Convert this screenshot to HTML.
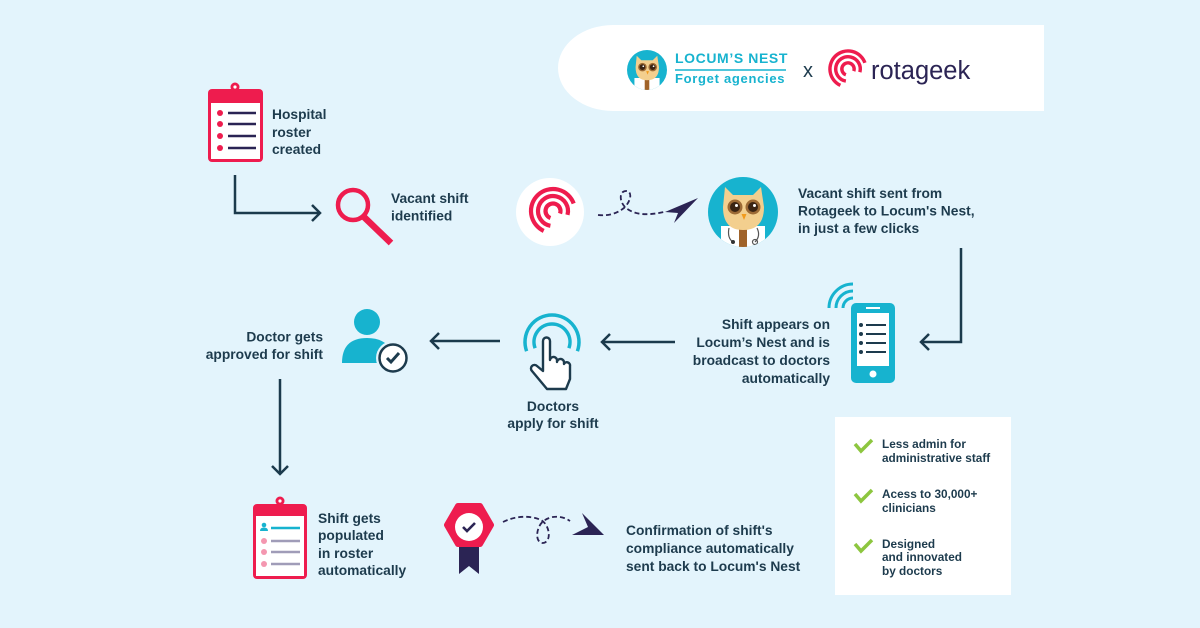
<!DOCTYPE html>
<html><head><meta charset="utf-8">
<style>
html,body{margin:0;padding:0;}
body{width:1200px;height:628px;background:#e3f4fc;overflow:hidden;}
svg{display:block}
.t{font-family:"Liberation Sans",Arial,sans-serif;font-weight:bold;font-size:13.8px;fill:#1d3b4d;}
.s{font-family:"Liberation Sans",Arial,sans-serif;font-weight:bold;font-size:11.8px;fill:#1d3b4d;}
</style></head><body>
<svg width="1200" height="628" viewBox="0 0 1200 628" xmlns="http://www.w3.org/2000/svg">
<defs>
<clipPath id="cbig"><circle cx="0" cy="0" r="35"/></clipPath>
</defs>
<rect width="1200" height="628" fill="#e3f4fc"/>

<!-- header box -->
<path d="M613,25 H1044 V111 H613 A55,43 0 0 1 613,25 Z" fill="#fff"/>
<!-- small owl logo -->
<g transform="translate(647,70) scale(0.571)">
  <circle r="35" fill="#17b3cf"/>
  <g clip-path="url(#cbig)">
    <rect x="-22" y="14" width="44" height="30" fill="#fff"/>
    <rect x="-4" y="16" width="8" height="28" fill="#a0632a"/>
    <path d="M-20,-5 L-18,-25 L-10,-17 H10 L18,-25 L21,-5 Q21,18 0,18 Q-20,18 -20,-5 Z" fill="#f3cf8e"/>
    <circle cx="-8" cy="-5" r="7.5" fill="#9c6a35"/><circle cx="-8" cy="-5" r="5" fill="#3a2413"/><circle cx="-6.5" cy="-6.5" r="1.5" fill="#fff"/>
    <circle cx="10" cy="-5" r="7.5" fill="#9c6a35"/><circle cx="10" cy="-5" r="5" fill="#3a2413"/><circle cx="11.5" cy="-6.5" r="1.5" fill="#fff"/>
    <polygon points="-1.5,2 3.5,2 1,8" fill="#f29b1d"/>
  </g>
</g>
<text x="675" y="63" font-family="Liberation Sans, Arial, sans-serif" font-weight="bold" font-size="14" letter-spacing="0.6" fill="#17b3cf">LOCUM’S NEST</text>
<line x1="675" y1="70" x2="786" y2="70" stroke="#17b3cf" stroke-width="1.6"/>
<text x="675" y="83" font-family="Liberation Sans, Arial, sans-serif" font-weight="bold" font-size="13" letter-spacing="0.7" fill="#17b3cf">Forget agencies</text>
<text x="803" y="77" font-family="Liberation Sans, Arial, sans-serif" font-size="20" fill="#1d3b4d">x</text>
<g transform="translate(848,69) scale(0.82)" fill="none" stroke="#ee1c4e" stroke-width="4.2">
  <path d="M20.67,-7.52 A22,22 0 1 0 -9.30,19.94"/>
  <path d="M14.49,3.88 A15,15 0 1 0 -2.60,14.77"/>
  <path d="M7.05,2.57 A7.5,7.5 0 1 0 -2.57,7.05"/>
</g>
<text x="871" y="79" font-family="Liberation Sans, Arial, sans-serif" font-size="25.5" fill="#2b2454">rotageek</text>

<!-- clipboard 1 -->
<circle cx="235" cy="87" r="4.5" fill="#ee1c4e"/><circle cx="235" cy="87" r="1.6" fill="#fff"/>
<rect x="208" y="89" width="55" height="73" rx="4" fill="#ee1c4e"/>
<rect x="211" y="103" width="49" height="56" fill="#fff"/>
<g fill="#ee1c4e"><circle cx="220" cy="113" r="3"/><circle cx="220" cy="124" r="3"/><circle cx="220" cy="136" r="3"/><circle cx="220" cy="148" r="3"/></g>
<g stroke="#2a2454" stroke-width="2.6"><line x1="228" y1="113" x2="256" y2="113"/><line x1="228" y1="124" x2="256" y2="124"/><line x1="228" y1="136" x2="256" y2="136"/><line x1="228" y1="148" x2="256" y2="148"/></g>
<text class="t" x="272" y="119">Hospital</text>
<text class="t" x="272" y="137">roster</text>
<text class="t" x="272" y="154">created</text>

<!-- connectors -->
<g fill="none" stroke="#1b3a4c" stroke-width="2.5">
  <polyline points="235,175 235,213 320,213"/>
  <polyline points="312,205 320,213 312,221"/>
  <polyline points="961,248 961,342 921,342"/>
  <polyline points="929,334 921,342 929,350"/>
  <line x1="675" y1="342" x2="602" y2="342"/>
  <polyline points="610,334 602,342 610,350"/>
  <line x1="500" y1="341" x2="431" y2="341"/>
  <polyline points="439,333 431,341 439,349"/>
  <line x1="280" y1="379" x2="280" y2="474"/>
  <polyline points="272,466 280,474 288,466"/>
</g>

<!-- magnifier -->
<circle cx="353" cy="205" r="15" fill="none" stroke="#ee1c4e" stroke-width="4.5"/>
<line x1="364" y1="217" x2="391" y2="243" stroke="#ee1c4e" stroke-width="6.5"/>
<path d="M355,219 A9.5,9.5 0 0 0 367,208" fill="none" stroke="#ee1c4e" stroke-width="2"/>
<text class="t" x="391" y="203">Vacant shift</text>
<text class="t" x="391" y="220.5">identified</text>

<!-- rotageek circle -->
<circle cx="550" cy="212" r="34" fill="#fff"/>
<g transform="translate(553,211)" fill="none" stroke="#ee1c4e" stroke-width="4.2">
  <path d="M20.67,-7.52 A22,22 0 1 0 -9.30,19.94"/>
  <path d="M14.49,3.88 A15,15 0 1 0 -2.60,14.77"/>
  <path d="M7.05,2.57 A7.5,7.5 0 1 0 -2.57,7.05"/>
</g>

<!-- dashed path top -->
<path d="M598,215 C608,216 616,214 624,208 C632,200 632,191 626,191 C619,191 619,202 626,208 C636,216 650,215 664,212" fill="none" stroke="#2b2454" stroke-width="1.8" stroke-dasharray="5 3"/>
<polygon points="665,212 698,198 674,223 678,213" fill="#2b2454"/>

<!-- owl big -->
<g transform="translate(743,212)">
  <circle r="35" fill="#17b3cf"/>
  <g clip-path="url(#cbig)">
    <rect x="-22" y="14" width="44" height="30" fill="#fff"/>
    <rect x="-4" y="16" width="8" height="28" fill="#a0632a"/>
    <path d="M-14,16 Q-16,26 -10,30" fill="none" stroke="#555" stroke-width="1.2"/>
    <circle cx="-10" cy="30" r="2" fill="#333"/>
    <path d="M14,16 Q18,24 12,30" fill="none" stroke="#555" stroke-width="1.2"/>
    <circle cx="12" cy="30" r="2.5" fill="none" stroke="#555" stroke-width="1.2"/>
    <path d="M-20,-5 L-18,-25 L-10,-17 H10 L18,-25 L21,-5 Q21,18 0,18 Q-20,18 -20,-5 Z" fill="#f3cf8e"/>
    <circle cx="-8" cy="-5" r="7.5" fill="#9c6a35"/><circle cx="-8" cy="-5" r="5" fill="#3a2413"/><circle cx="-6.5" cy="-6.5" r="1.5" fill="#fff"/>
    <circle cx="10" cy="-5" r="7.5" fill="#9c6a35"/><circle cx="10" cy="-5" r="5" fill="#3a2413"/><circle cx="11.5" cy="-6.5" r="1.5" fill="#fff"/>
    <polygon points="-1.5,2 3.5,2 1,8" fill="#f29b1d"/>
  </g>
</g>
<text class="t" x="798" y="198">Vacant shift sent from</text>
<text class="t" x="798" y="215.5">Rotageek to Locum's Nest,</text>
<text class="t" x="798" y="233">in just a few clicks</text>

<!-- phone -->
<g fill="none" stroke="#17b3cf" stroke-width="3">
  <path d="M843,308 A10,10 0 0 1 853,298"/>
  <path d="M836,308 A17,17 0 0 1 853,291"/>
  <path d="M829,308 A24,24 0 0 1 853,284"/>
</g>
<rect x="851" y="303" width="44" height="80" rx="5" fill="#17b3cf"/>
<rect x="857" y="313" width="32" height="53" fill="#fff"/>
<line x1="866" y1="308" x2="880" y2="308" stroke="#fff" stroke-width="2"/>
<circle cx="873" cy="374" r="3.5" fill="#fff"/>
<g fill="#1d3b4d"><circle cx="861" cy="325" r="2"/><circle cx="861" cy="334" r="2"/><circle cx="861" cy="343" r="2"/><circle cx="861" cy="352" r="2"/></g>
<g stroke="#1d3b4d" stroke-width="2"><line x1="866" y1="325" x2="886" y2="325"/><line x1="866" y1="334" x2="886" y2="334"/><line x1="866" y1="343" x2="886" y2="343"/><line x1="866" y1="352" x2="886" y2="352"/></g>
<g class="t" text-anchor="end">
<text class="t" x="830" y="329" text-anchor="end">Shift appears on</text>
<text class="t" x="830" y="347" text-anchor="end">Locum’s Nest and is</text>
<text class="t" x="830" y="365" text-anchor="end">broadcast to doctors</text>
<text class="t" x="830" y="383" text-anchor="end">automatically</text>
</g>

<!-- hand tap -->
<g fill="none" stroke="#17b3cf" stroke-width="3.5">
  <path d="M526.6,351.2 A27,27 0 1 1 577.4,351.2"/>
  <path d="M535.1,348.2 A18,18 0 1 1 568.9,348.2"/>
</g>
<path d="M543,341 A3.5,3.5 0 0 1 550,341 V360 A3.5,3.5 0 0 1 557,361 V362 A3.5,3.5 0 0 1 564,363 V364 A3.2,3.2 0 0 1 570,366 V379 L566,389 H547 L532,371 A3.3,3.3 0 0 1 537,366 L543,371 Z" fill="#fff" stroke="#1d3b4d" stroke-width="2.4" stroke-linejoin="round"/>
<text class="t" x="553" y="411" text-anchor="middle">Doctors</text>
<text class="t" x="553" y="428" text-anchor="middle">apply for shift</text>

<!-- person -->
<circle cx="367" cy="322" r="13" fill="#17b3cf"/>
<path d="M342,363 Q342,338 367,338 Q386,338 392,352 L392,363 Z" fill="#17b3cf"/>
<circle cx="393" cy="358" r="17" fill="#e3f4fc"/>
<circle cx="393" cy="358" r="13.5" fill="#fff" stroke="#1d3b4d" stroke-width="2.5"/>
<polyline points="387,358 391,362 399,353" fill="none" stroke="#1d3b4d" stroke-width="3"/>
<text class="t" x="323" y="341.5" text-anchor="end">Doctor gets</text>
<text class="t" x="323" y="359" text-anchor="end">approved for shift</text>

<!-- clipboard 2 -->
<circle cx="280" cy="501" r="4.5" fill="#ee1c4e"/><circle cx="280" cy="501" r="1.6" fill="#fff"/>
<rect x="253" y="504" width="54" height="75" rx="4" fill="#ee1c4e"/>
<rect x="256" y="516" width="48" height="60" fill="#fff"/>
<circle cx="264" cy="525" r="2.3" fill="#17b3cf"/>
<path d="M260,531 Q260,527.5 264,527.5 Q268,527.5 268,531 Z" fill="#17b3cf"/>
<line x1="271" y1="528" x2="300" y2="528" stroke="#17b3cf" stroke-width="2.5"/>
<g fill="#f497b0"><circle cx="264" cy="541" r="3"/><circle cx="264" cy="552" r="3"/><circle cx="264" cy="564" r="3"/></g>
<g stroke="#a09cb8" stroke-width="2.5"><line x1="271" y1="541" x2="300" y2="541"/><line x1="271" y1="552" x2="300" y2="552"/><line x1="271" y1="564" x2="300" y2="564"/></g>
<text class="t" x="318" y="523">Shift gets</text>
<text class="t" x="318" y="540">populated</text>
<text class="t" x="318" y="558">in roster</text>
<text class="t" x="318" y="575">automatically</text>

<!-- badge -->
<polygon points="459,543 479,543 479,574 469,566 459,574" fill="#2b2454"/>
<polygon points="491,525 480,506 458,506 447,525 458,544 480,544" fill="#ee1c4e" stroke="#ee1c4e" stroke-width="6" stroke-linejoin="round"/>
<circle cx="469" cy="527" r="14" fill="#fff"/>
<polyline points="463,527 467,531 475,523" fill="none" stroke="#2b2454" stroke-width="2.6"/>

<path d="M503,522 C515,516 530,515 541,520 C550,525 552,542 543,543 C534,543 536,525 545,520 C553,515 563,516 570,521" fill="none" stroke="#2b2454" stroke-width="1.8" stroke-dasharray="5 3"/>
<polygon points="582,513 604,535 572,535 588,527" fill="#2b2454"/>

<text class="t" x="626" y="535">Confirmation of shift's</text>
<text class="t" x="626" y="553">compliance automatically</text>
<text class="t" x="626" y="571">sent back to Locum's Nest</text>

<!-- benefits box -->
<rect x="835" y="417" width="176" height="178" fill="#fff"/>
<g fill="none" stroke="#8dc63f" stroke-width="3.5">
  <polyline points="855,444 861,451 872,440"/>
  <polyline points="855,494 861,501 872,490"/>
  <polyline points="855,544 861,551 872,540"/>
</g>
<text class="s" x="882" y="448">Less admin for</text>
<text class="s" x="882" y="462">administrative staff</text>
<text class="s" x="882" y="498">Acess to 30,000+</text>
<text class="s" x="882" y="512">clinicians</text>
<text class="s" x="882" y="548">Designed</text>
<text class="s" x="882" y="561">and innovated</text>
<text class="s" x="882" y="575">by doctors</text>
</svg>
</body></html>
